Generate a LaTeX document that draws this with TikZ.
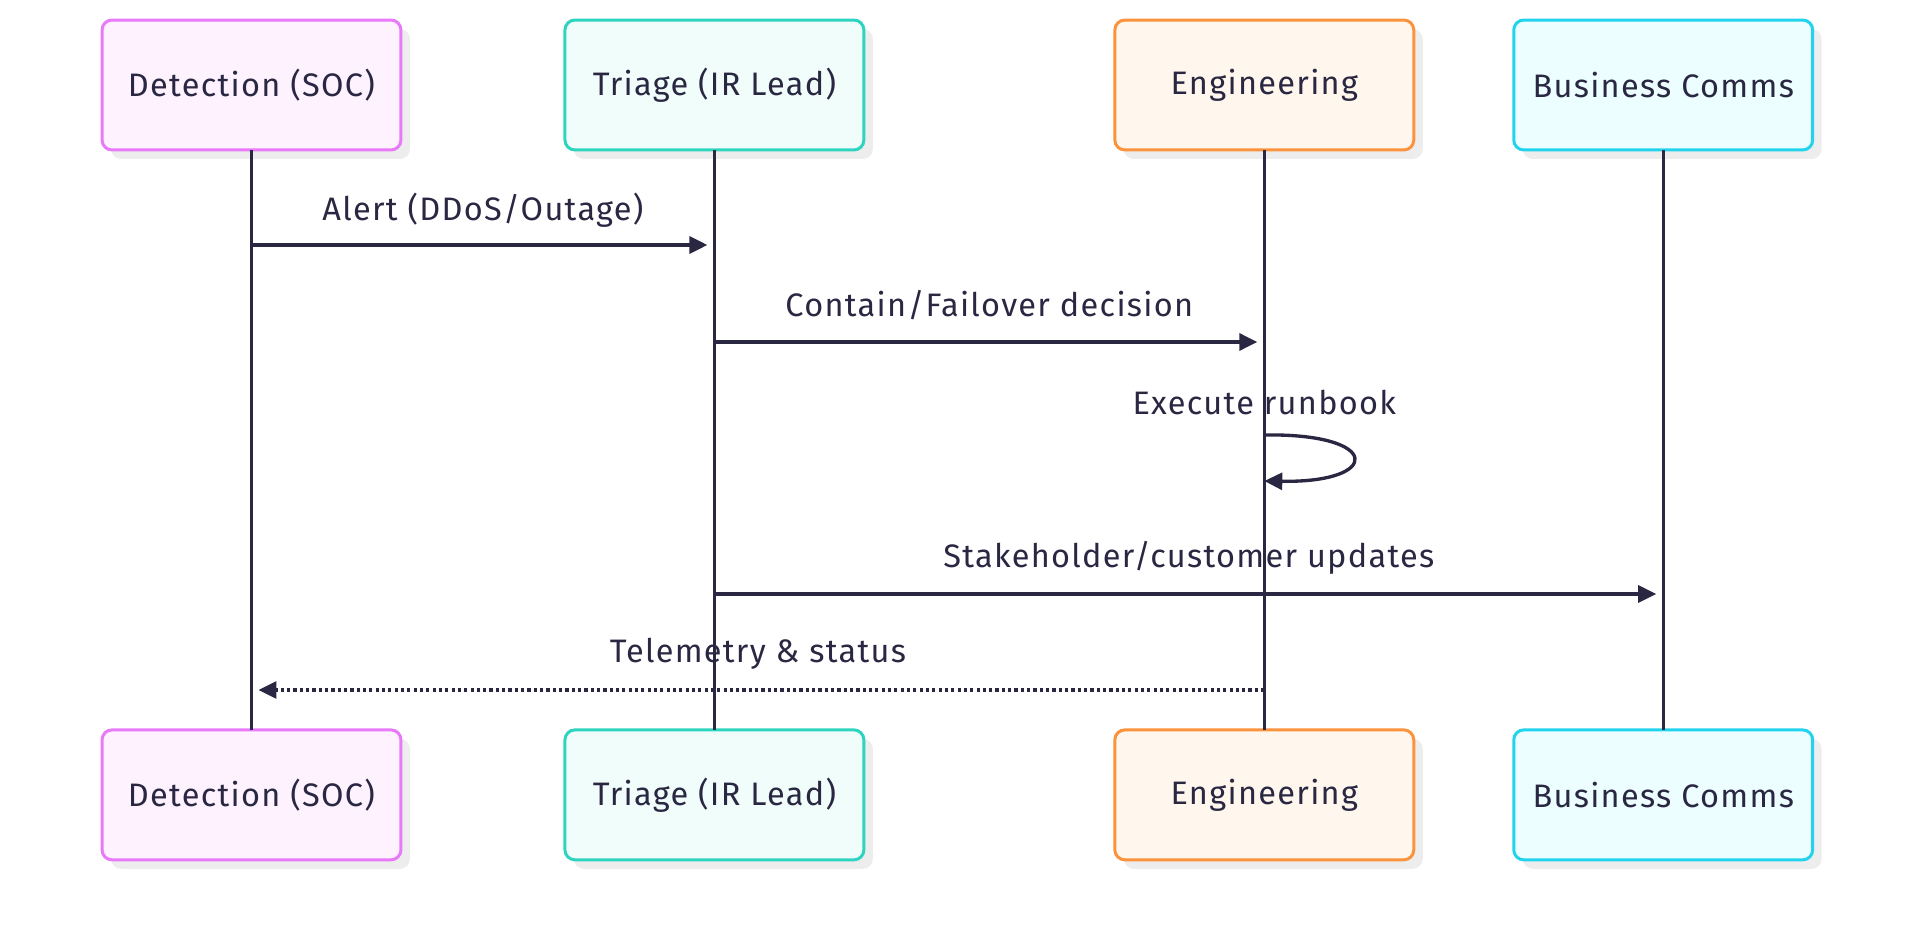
\documentclass[tikz,border=0pt]{standalone}
\usepackage{fontspec}
\setmainfont[LetterSpace=4]{Fira Sans}
\usepackage{xcolor}
\usepackage{tikz}
\usetikzlibrary{arrows.meta,positioning,shadows,calc}
\definecolor{ink}{HTML}{2A2742}
\definecolor{socpink}{HTML}{E879F9}
\definecolor{socfill}{HTML}{FDF2FE}
\definecolor{irteal}{HTML}{2DD4BF}
\definecolor{irfill}{HTML}{F0FDFA}
\definecolor{engorange}{HTML}{FB923C}
\definecolor{engfill}{HTML}{FFF7ED}
\definecolor{commscyan}{HTML}{22D3EE}
\definecolor{commsfill}{HTML}{ECFEFF}
\definecolor{shade}{HTML}{EDEDED}
\tikzset{
  actorbox/.style={
    rectangle, rounded corners=0.2cm, draw=#1, line width=1.7pt,
    minimum width=5.98cm, minimum height=2.6cm, outer sep=0pt,
    text=ink, font=\fontsize{18.5}{22}\selectfont, inner sep=0pt,
    drop shadow={shadow xshift=0.18cm, shadow yshift=-0.18cm,
      fill=shade, opacity=1}
  },
  actorbox/.default=socpink,
  lifeline/.style={draw=ink, line width=1.7pt},
  msgarrow/.style={
    -{Triangle[length=0.36cm, width=0.34cm]}, draw=ink, fill=none,
    line width=1.9pt, shorten >=0.14cm
  },
  replyarrow/.style={msgarrow, dash pattern=on 1.8pt off 1.8pt},
  msglabel/.style={text=ink, font=\fontsize{18.5}{22}\selectfont,
    inner sep=0pt},
}
\begin{document}
\begin{tikzpicture}[x=0.02cm, y=-0.02cm]
\useasboundingbox (0,0) rectangle (1914,942);
% actors, top row
\node[actorbox=socpink, fill=socfill] (soc-top) at (251.5,85) {Detection (SOC)};
\node[actorbox=irteal, fill=irfill, right=3.28cm of soc-top] (ir-top) {Triage (IR Lead)};
\node[actorbox=engorange, fill=engfill, right=5.02cm of ir-top] (eng-top) {Engineering};
\node[actorbox=commscyan, fill=commsfill, right=2cm of eng-top] (biz-top) {Business Comms};
% actors, bottom row
\node[actorbox=socpink, fill=socfill, below=11.6cm of soc-top] (soc-bot) {Detection (SOC)};
\node[actorbox=irteal, fill=irfill, below=11.6cm of ir-top] (ir-bot) {Triage (IR Lead)};
\node[actorbox=engorange, fill=engfill, below=11.6cm of eng-top] (eng-bot) {Engineering};
\node[actorbox=commscyan, fill=commsfill, below=11.6cm of biz-top] (biz-bot) {Business Comms};

% message rows
\coordinate (m1) at (0,245);
\coordinate (m2) at (0,342);
\coordinate (m3a) at (0,435);
\coordinate (m3b) at (0,481);
\coordinate (m4) at (0,594);
\coordinate (m5) at (0,690);

% labels
\node[msglabel] (l1) at ($(soc-top |- m1)!0.5!(ir-top |- m1)$) [yshift=0.7cm] {Alert (DDoS/Outage)};
\node[msglabel] (l2) at ($(ir-top |- m2)!0.5!(eng-top |- m2)$) [yshift=0.74cm] {Contain/Failover decision};
\node[msglabel] (l3) at ($(eng-top |- m3a)+(0,-32)$) {Execute runbook};
\node[msglabel] (l4) at ($(ir-top |- m4)!0.5!(biz-top |- m4)$) [yshift=0.72cm] {Stakeholder/customer updates};
\node[msglabel] (l5) at ($(soc-top |- m5)!0.5!(eng-top |- m5)$) [yshift=0.72cm] {Telemetry \& status};

% lifelines
\draw[lifeline] (soc-top) -- (soc-bot);
\draw[lifeline] (ir-top) -- (ir-bot);
\draw[lifeline] (eng-top) -- (eng-bot);
\draw[lifeline] (biz-top) -- (biz-bot);

% messages
\draw[msgarrow] (soc-top |- m1) -- (ir-top |- m1);
\draw[msgarrow] (ir-top |- m2) -- (eng-top |- m2);
\draw[msgarrow, shorten >=0pt] (eng-top |- m3a) .. controls +(118,-2) and +(118,2) .. (eng-top |- m3b);
\draw[msgarrow] (ir-top |- m4) -- (biz-top |- m4);
\draw[replyarrow] (eng-top |- m5) -- (soc-top |- m5);
\end{tikzpicture}
\end{document}
